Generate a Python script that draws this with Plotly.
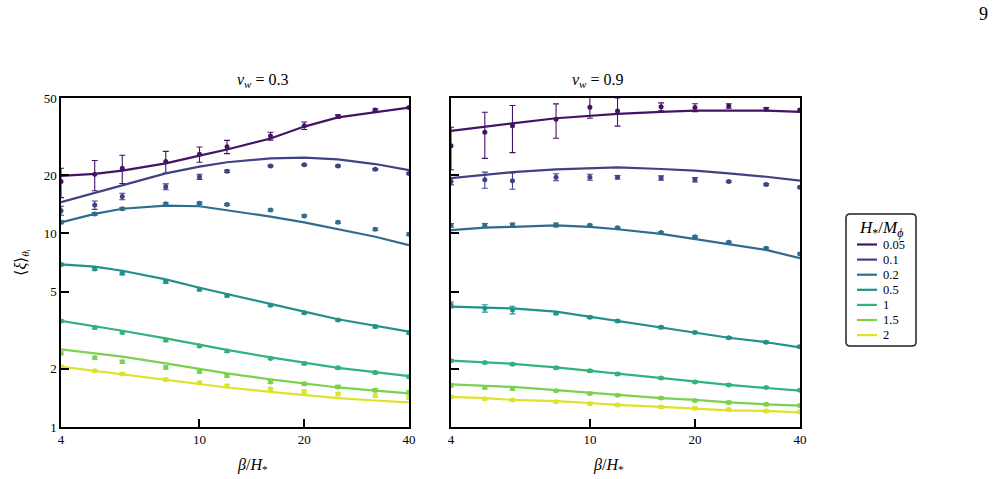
import plotly.graph_objects as go
from plotly.colors import sample_colorscale

# ---------------- data ----------------
beta = [4, 5, 6, 8, 10, 12, 16, 20, 25, 32, 40]
ratios = ["0.05", "0.1", "0.2", "0.5", "1", "1.5", "2"]

# v_w = 0.3 : fitted curves
fit_03 = {
    "0.05": [19.8, 20.3, 21.1, 23.0, 25.2, 27.1, 30.9, 35.6, 39.7, 42.4, 44.6],
    "0.1":  [14.5, 16.2, 17.8, 20.4, 22.1, 23.3, 24.4, 24.6, 24.1, 22.8, 21.2],
    "0.2":  [11.4, 12.6, 13.4, 13.9, 13.8, 13.2, 12.2, 11.4, 10.5, 9.6, 8.7],
    "0.5":  [6.92, 6.73, 6.41, 5.79, 5.24, 4.85, 4.32, 3.94, 3.60, 3.32, 3.11],
    "1":    [3.53, 3.32, 3.14, 2.87, 2.65, 2.50, 2.29, 2.15, 2.02, 1.92, 1.83],
    "1.5":  [2.52, 2.40, 2.31, 2.13, 1.99, 1.89, 1.76, 1.68, 1.60, 1.54, 1.49],
    "2":    [2.05, 1.95, 1.88, 1.76, 1.67, 1.60, 1.52, 1.46, 1.41, 1.37, 1.34],
}
# v_w = 0.3 : simulation points
sim_03 = {
    "0.05": [18.5, 20.2, 21.7, 23.5, 25.6, 28.0, 31.8, 36.0, 40.1, 43.4, 44.6],
    "0.1":  [13.1, 14.0, 15.5, 17.4, 19.6, 20.9, 22.3, 22.6, 22.3, 21.4, 20.4],
    "0.2":  [11.4, 12.6, 13.4, 14.2, 14.3, 14.1, 13.2, 12.3, 11.4, 10.5, 9.9],
    "0.5":  [6.90, 6.55, 6.22, 5.63, 5.14, 4.77, 4.25, 3.89, 3.57, 3.30, 3.07],
    "1":    [3.53, 3.26, 3.08, 2.81, 2.62, 2.47, 2.26, 2.13, 2.02, 1.91, 1.82],
    "1.5":  [2.40, 2.28, 2.17, 2.03, 1.93, 1.84, 1.71, 1.67, 1.61, 1.55, 1.51],
    "2":    [2.05, 1.95, 1.88, 1.76, 1.69, 1.63, 1.57, 1.52, 1.48, 1.45, 1.42],
}
err_03 = {
    "0.05": [3.2, 3.6, 3.6, 3.0, 2.3, 2.2, 1.5, 1.6, 0.8, 0.6, 0.3],
    "0.1":  [0.7, 0.7, 0.6, 0.6, 0.6, 0.3, 0.2, 0.2, 0.2, 0.2, 0.2],
    "0.2":  [0.2, 0.2, 0.2, 0.2, 0.2, 0.15, 0.15, 0.15, 0.15, 0.15, 0.15],
    "0.5":  [0.1, 0.1, 0.1, 0.1, 0.1, 0.08, 0.06, 0.05, 0.05, 0.05, 0.05],
    "1":    [0.05, 0.05, 0.05, 0.05, 0.04, 0.04, 0.03, 0.03, 0.03, 0.03, 0.03],
    "1.5":  [0.04, 0.04, 0.04, 0.04, 0.03, 0.03, 0.03, 0.03, 0.03, 0.03, 0.03],
    "2":    [0.03, 0.03, 0.03, 0.03, 0.03, 0.03, 0.03, 0.03, 0.03, 0.03, 0.03],
}

# v_w = 0.9 : fitted curves
fit_09 = {
    "0.05": [33.8, 35.6, 37.0, 39.3, 40.4, 41.4, 42.4, 43.0, 43.0, 43.0, 42.4],
    "0.1":  [19.3, 20.0, 20.7, 21.4, 21.7, 21.9, 21.5, 21.1, 20.4, 19.6, 18.7],
    "0.2":  [10.4, 10.7, 10.8, 11.0, 10.8, 10.5, 9.93, 9.35, 8.78, 8.21, 7.44],
    "0.5":  [4.18, 4.14, 4.10, 3.94, 3.71, 3.54, 3.27, 3.08, 2.89, 2.74, 2.58],
    "1":    [2.20, 2.16, 2.12, 2.03, 1.95, 1.88, 1.78, 1.71, 1.65, 1.59, 1.54],
    "1.5":  [1.66, 1.63, 1.61, 1.55, 1.50, 1.47, 1.41, 1.38, 1.34, 1.31, 1.29],
    "2":    [1.43, 1.41, 1.38, 1.36, 1.33, 1.30, 1.27, 1.25, 1.22, 1.21, 1.19],
}
# v_w = 0.9 : simulation points
sim_09 = {
    "0.05": [28.3, 33.3, 35.9, 38.8, 44.8, 42.9, 45.1, 44.6, 45.5, 43.8, 43.4],
    "0.1":  [18.5, 18.9, 18.7, 19.5, 19.5, 19.5, 19.3, 18.9, 18.5, 17.9, 17.3],
    "0.2":  [11.0, 11.0, 11.05, 11.05, 11.0, 10.7, 10.1, 9.6, 9.0, 8.38, 7.83],
    "0.5":  [4.27, 4.10, 4.02, 3.87, 3.69, 3.53, 3.27, 3.08, 2.89, 2.74, 2.60],
    "1":    [2.20, 2.15, 2.11, 2.02, 1.95, 1.88, 1.79, 1.71, 1.65, 1.60, 1.55],
    "1.5":  [1.64, 1.60, 1.58, 1.54, 1.49, 1.46, 1.41, 1.37, 1.34, 1.31, 1.29],
    "2":    [1.43, 1.40, 1.38, 1.35, 1.32, 1.30, 1.27, 1.25, 1.23, 1.21, 1.20],
}
err_09 = {
    "0.05": [7.0, 8.9, 9.8, 7.8, 5.5, 7.1, 2.1, 2.1, 1.2, 0.8, 0.5],
    "0.1":  [0.7, 1.8, 1.8, 0.8, 0.7, 0.4, 0.5, 0.5, 0.2, 0.2, 0.2],
    "0.2":  [0.25, 0.25, 0.25, 0.25, 0.15, 0.1, 0.1, 0.1, 0.1, 0.1, 0.1],
    "0.5":  [0.15, 0.18, 0.18, 0.06, 0.05, 0.05, 0.05, 0.04, 0.04, 0.04, 0.04],
    "1":    [0.03, 0.03, 0.03, 0.03, 0.03, 0.03, 0.02, 0.02, 0.02, 0.02, 0.02],
    "1.5":  [0.03, 0.03, 0.03, 0.02, 0.02, 0.02, 0.02, 0.02, 0.02, 0.02, 0.02],
    "2":    [0.02, 0.02, 0.02, 0.02, 0.02, 0.02, 0.02, 0.02, 0.02, 0.02, 0.02],
}

x_ticks = [4, 10, 20, 40]
y_ticks = [1, 2, 5, 10, 20, 50]
panel_titles = ["<i>v</i><sub><i>w</i></sub> = 0.3", "<i>v</i><sub><i>w</i></sub> = 0.9"]
legend_title = "<i>H</i><sub>*</sub>/<i>M</i><sub><i>ϕ</i></sub>"

# ---------------- figure ----------------
colors = sample_colorscale("Viridis", [0.05, 0.20, 0.35, 0.50, 0.65, 0.80, 0.95])
FONT = "Liberation Serif"

W, H = 995, 479
ML, MR, MT, MB = 61, 195, 98, 52
PW, PH = W - ML - MR, H - MT - MB


def px_x(p):  # pixel -> paper x
    return (p - ML) / PW


def px_y(p):  # pixel -> paper y
    return (H - MB - p) / PH


fig = go.Figure()

panels = [("x", "y", fit_03, sim_03, err_03), ("x2", "y2", fit_09, sim_09, err_09)]
for pi, (xa, ya, fit, sim, err) in enumerate(panels):
    for ci, r in enumerate(ratios):
        c = colors[ci]
        fig.add_trace(go.Scatter(
            x=beta, y=fit[r], mode="lines", xaxis=xa, yaxis=ya,
            line=dict(color=c, width=2.2), name=r, showlegend=False))
        fig.add_trace(go.Scatter(
            x=beta, y=sim[r], mode="markers", xaxis=xa, yaxis=ya,
            marker=dict(color=c, size=5),
            error_y=dict(type="data", array=err[r], color=c, thickness=1.1, width=3),
            name=r, showlegend=False))

axis_common = dict(
    type="log", showgrid=False, zeroline=False, showline=True, linecolor="black",
    linewidth=1.5, mirror=True, ticks="inside", ticklen=8, tickwidth=1.5,
    tickcolor="black", tickfont=dict(family=FONT, size=13, color="black"),
)

x1_dom = [0, px_x(409)]
x2_dom = [px_x(451), 1]

fig.update_layout(
    width=W, height=H,
    margin=dict(l=ML, r=MR, t=MT, b=MB),
    paper_bgcolor="white", plot_bgcolor="white",
    font=dict(family=FONT, color="black"),
    showlegend=False,
    xaxis=dict(domain=x1_dom, range=[0.60206, 1.60206],
               tickvals=x_ticks, ticktext=[str(v) for v in x_ticks], **axis_common),
    xaxis2=dict(domain=x2_dom, range=[0.60206, 1.60206], anchor="y2",
                tickvals=x_ticks, ticktext=[str(v) for v in x_ticks], **axis_common),
    yaxis=dict(range=[0, 1.69897], tickvals=y_ticks,
               ticktext=[str(v) for v in y_ticks], **axis_common),
    yaxis2=dict(range=[0, 1.69897], tickvals=y_ticks, showticklabels=False,
                anchor="x2", **axis_common),
)

annos = [
    dict(text=panel_titles[0], x=sum(x1_dom) / 2, y=1.0, xref="paper", yref="paper",
         yanchor="bottom", yshift=6, showarrow=False, font=dict(family=FONT, size=16)),
    dict(text=panel_titles[1], x=sum(x2_dom) / 2, y=1.0, xref="paper", yref="paper",
         yanchor="bottom", yshift=6, showarrow=False, font=dict(family=FONT, size=16)),
    dict(text="<i>β</i>/<i>H</i><sub>*</sub>", x=sum(x1_dom) / 2, y=0, xref="paper", yref="paper",
         yanchor="top", yshift=-27, showarrow=False, font=dict(family=FONT, size=16)),
    dict(text="<i>β</i>/<i>H</i><sub>*</sub>", x=sum(x2_dom) / 2, y=0, xref="paper", yref="paper",
         yanchor="top", yshift=-27, showarrow=False, font=dict(family=FONT, size=16)),
    dict(text="⟨<i>ξ</i>⟩<sub><i>θ</i>ᵢ</sub>", x=0, y=0.5, xref="paper", yref="paper",
         xanchor="center", xshift=-40, textangle=-90, showarrow=False,
         font=dict(family=FONT, size=16)),
    dict(text="9", x=1, y=1, xref="paper", yref="paper", xanchor="center", yanchor="middle",
         xshift=183, yshift=84, showarrow=False, font=dict(family=FONT, size=18)),
]

# ---- manual legend (compact, rounded box) ----
bx0, bx1, by0, by1, rad = 846, 916, 214, 346, 4
shapes = []
path = (f"M {px_x(bx0 + rad)},{px_y(by0)} L {px_x(bx1 - rad)},{px_y(by0)} "
        f"Q {px_x(bx1)},{px_y(by0)} {px_x(bx1)},{px_y(by0 + rad)} "
        f"L {px_x(bx1)},{px_y(by1 - rad)} Q {px_x(bx1)},{px_y(by1)} {px_x(bx1 - rad)},{px_y(by1)} "
        f"L {px_x(bx0 + rad)},{px_y(by1)} Q {px_x(bx0)},{px_y(by1)} {px_x(bx0)},{px_y(by1 - rad)} "
        f"L {px_x(bx0)},{px_y(by0 + rad)} Q {px_x(bx0)},{px_y(by0)} {px_x(bx0 + rad)},{px_y(by0)} Z")
shapes.append(dict(type="path", path=path, xref="paper", yref="paper",
                   line=dict(color="#222", width=1.5), fillcolor="white", layer="above"))
annos.append(dict(text=legend_title, x=px_x((bx0 + bx1) / 2), y=px_y(229),
                  xref="paper", yref="paper", xanchor="center", yanchor="middle",
                  showarrow=False, font=dict(family=FONT, size=17)))
item_y0, item_dy = 244.5, 15.1
for i, r in enumerate(ratios):
    yy = item_y0 + i * item_dy
    shapes.append(dict(type="line", xref="paper", yref="paper",
                       x0=px_x(857), x1=px_x(877), y0=px_y(yy), y1=px_y(yy),
                       line=dict(color=colors[i], width=2.2), layer="above"))
    annos.append(dict(text=r, x=px_x(881), y=px_y(yy), xref="paper", yref="paper",
                      xanchor="left", yanchor="middle", showarrow=False,
                      font=dict(family=FONT, size=12.5)))

fig.update_layout(annotations=annos, shapes=shapes)

fig.write_html("out.html")
